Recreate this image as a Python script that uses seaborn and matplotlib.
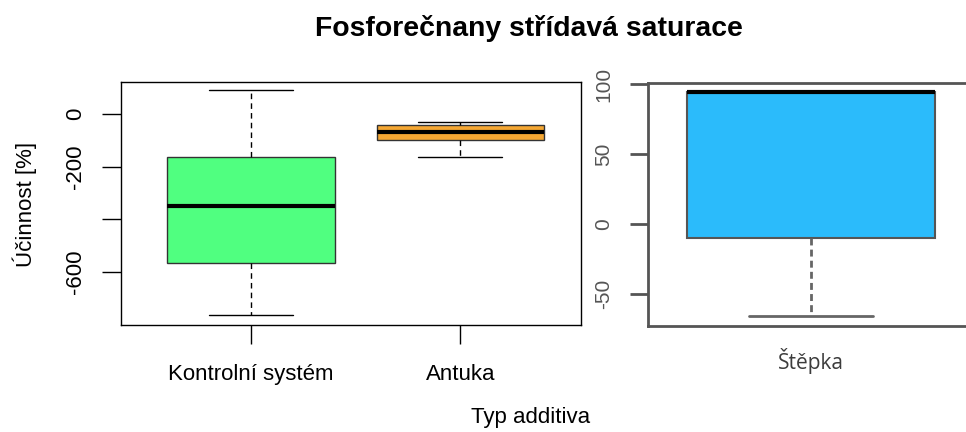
import numpy as np
import pandas as pd
import matplotlib
matplotlib.use("Agg")
import matplotlib.pyplot as plt
import seaborn as sns

# ---- data (five-number summaries: min, q1, median, q3, max)
left_categories = ["Kontrolní systém", "Antuka"]
kontrolni_values = [-762, -564, -349, -163, 91]
antuka_values = [-163, -99, -68, -42, -30]
right_category = "Štěpka"
stepka_values = [-65.5, -10, 94.5, 94.5, 94.5]

left_yticks = [0, -200, -400, -600]
left_yticklabels = ["0", "-200", "", "-600"]
right_yticks = [100, 50, 0, -50]
right_yticklabels = ["100", "50", "0", "-50"]

title = "Fosforečnany střídavá saturace"
ylabel = "Účinnost [%]"
xlabel = "Typ additiva"

colors_left = ["#50FF80", "#F5A733"]
color_right = "#2BBBFB"

sns.set_theme(style="white")
plt.rcParams["font.family"] = ["Liberation Sans", "DejaVu Sans"]
plt.rcParams["text.color"] = "black"
plt.rcParams["axes.labelcolor"] = "black"

fig = plt.figure(figsize=(9.66, 4.32), dpi=100)

W, H = 966, 432
def axrect(x0, y0, x1, y1):
    return [x0 / W, 1 - y1 / H, (x1 - x0) / W, (y1 - y0) / H]

ax1 = fig.add_axes(axrect(121, 81.7, 581, 325))
ax2 = fig.add_axes(axrect(648, 83.3, 974, 325.7))

df_left = pd.DataFrame({
    "typ": [left_categories[0]] * len(kontrolni_values) + [left_categories[1]] * len(antuka_values),
    "val": kontrolni_values + antuka_values,
})
df_right = pd.DataFrame({"typ": [right_category] * len(stepka_values), "val": stepka_values})

sns.boxplot(data=df_left, x="typ", y="val", hue="typ", order=left_categories,
            hue_order=left_categories, palette=colors_left, legend=False, ax=ax1,
            width=0.8, linewidth=1.0, linecolor="#333333", fliersize=0, saturation=1,
            medianprops=dict(color="black", linewidth=3),
            whiskerprops=dict(color="black", linestyle=(0, (4, 3)), linewidth=1),
            capprops=dict(color="black", linestyle="-", linewidth=1),
            boxprops=dict(edgecolor="#333333", linewidth=1))
sns.boxplot(data=df_right, x="typ", y="val", hue="typ", palette=[color_right],
            legend=False, ax=ax2,
            width=0.8, linewidth=1.5, linecolor="#555555", fliersize=0, saturation=1,
            medianprops=dict(color="black", linewidth=3),
            whiskerprops=dict(color="#666666", linestyle=(0, (2.5, 1.5)), linewidth=2),
            capprops=dict(color="#666666", linestyle="-", linewidth=2),
            boxprops=dict(edgecolor="#555555", linewidth=1.5))

# left panel styling
ax1.set_xlim(-0.617, 1.574)
ax1.set_ylim(-800, 122.4)
ax1.set_xlabel("")
ax1.set_ylabel("")
ax1.set_yticks(left_yticks)
ax1.set_yticklabels(left_yticklabels, rotation=90, va="center")
for s in ax1.spines.values():
    s.set_color("black")
    s.set_linewidth(1)
    s.set_visible(True)
ax1.tick_params(axis="both", direction="out", length=14, width=1, color="black",
                labelsize=16, labelcolor="black", left=True, bottom=True)
ax1.tick_params(axis="y", pad=11)
ax1.tick_params(axis="x", pad=14)

# right panel styling
ax2.set_xlim(-0.526, 0.526)
ax2.set_ylim(-72.6, 100.5)
ax2.set_xlabel("")
ax2.set_ylabel("")
ax2.set_yticks(right_yticks)
ax2.set_yticklabels(right_yticklabels, rotation=90, va="center")
for s in ax2.spines.values():
    s.set_color("#555555")
    s.set_linewidth(2)
    s.set_visible(True)
ax2.tick_params(axis="y", direction="out", length=13, width=2, color="#555555",
                labelsize=15, labelcolor="#555555", left=True, pad=12)
ax2.tick_params(axis="x", length=0, pad=16)
for lab in ax2.get_xticklabels():
    lab.set_fontfamily(["Open Sans", "DejaVu Sans"])
    lab.set_fontsize(15)
    lab.set_color("#3c3c3c")

fig.text(529 / W, 1 - 28 / H, title, ha="center", va="center",
         fontsize=20.4, fontweight="bold", color="black")
fig.text(25 / W, 1 - 204 / H, ylabel, ha="center", va="center",
         rotation=90, fontsize=16, color="black")
fig.text(531 / W, 1 - 418 / H, xlabel, ha="center", va="center", fontsize=16,
         color="black")

fig.savefig("out.png", dpi=100)
